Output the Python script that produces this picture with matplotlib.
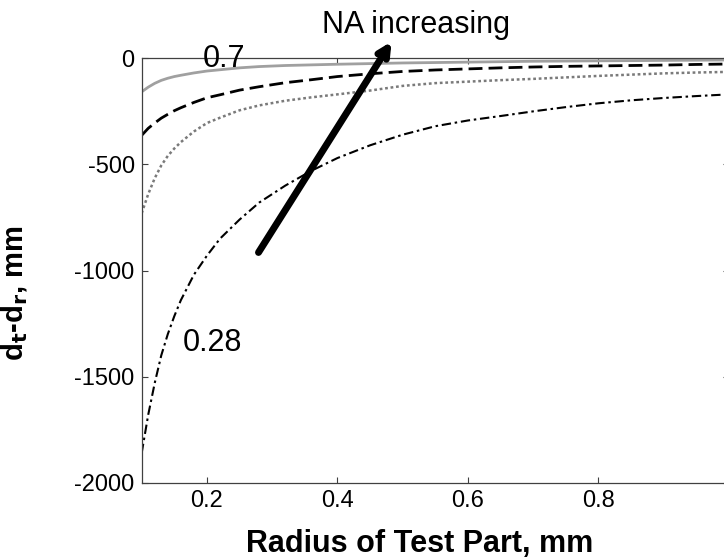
import numpy as np
import matplotlib
matplotlib.use("Agg")
import matplotlib.pyplot as plt

plt.rcParams["font.family"] = ["Liberation Sans", "DejaVu Sans"]
plt.rcParams["axes.unicode_minus"] = False

# radius of test part (mm) and d_t - d_r (mm), one list per NA
radius = [0.10, 0.11, 0.12, 0.13, 0.14, 0.15, 0.16, 0.18, 0.20, 0.22, 0.25, 0.28, 0.32, 0.36,
          0.40, 0.45, 0.50, 0.55, 0.60, 0.65, 0.70, 0.75, 0.80, 0.85, 0.90, 0.95, 1.00]
na_070 = [-158, -136, -118, -104, -94, -86, -80, -69, -60, -54, -45, -39, -34, -31,
          -28, -25, -22, -20, -18, -16, -14, -13, -12, -11, -10, -9, -8]
na_mid_hi = [-363, -330, -305, -282, -264, -247, -233, -208, -186, -172, -150, -134, -115, -101,
             -86, -73, -62, -55, -50, -45, -41, -38, -36, -34, -32, -29, -27]
na_mid_lo = [-730, -640, -565, -505, -460, -425, -395, -345, -305, -280, -245, -222, -200, -184,
             -170, -152, -130, -117, -110, -103, -97, -90, -83, -77, -71, -67, -64]
na_028 = [-1860, -1680, -1530, -1400, -1300, -1215, -1140, -1020, -930, -850, -760, -680, -600, -530,
          -470, -410, -360, -320, -293, -272, -250, -230, -212, -198, -187, -178, -170]

fig = plt.figure(figsize=(7.24, 5.6), dpi=100)
ax = fig.add_axes([0.1957, 0.138, 0.8112, 0.7579])

ax.plot(radius, na_070, color="#a0a0a0", lw=2.0, solid_capstyle="butt")
ax.plot(radius, na_mid_hi, color="black", lw=2.0, dashes=(5, 2.2))
ax.plot(radius, na_mid_lo, color="#7a7a7a", lw=1.8, dashes=(1.1, 1.1))
ax.plot(radius, na_028, color="black", lw=1.5, dashes=(4.5, 1.8, 1.2, 1.8))

ax.set_xlim(0.1, 1.0)
ax.set_ylim(-2000, 0)
ax.set_xticks([0.2, 0.4, 0.6, 0.8])
ax.set_xticklabels(["0.2", "0.4", "0.6", "0.8"])
ax.set_yticks([-2000, -1500, -1000, -500, 0])
ax.tick_params(direction="in", length=4.5, width=0.8, color="#404040", labelsize=17,
               top=True, right=True, pad=5)
for s in ax.spines.values():
    s.set_color("#404040"); s.set_linewidth(0.9)

ax.set_xlabel("Radius of Test Part, mm", fontsize=22, fontweight="bold")
ax.xaxis.set_label_coords(0.474, -0.11)
ax.set_ylabel("d$_\\mathbf{t}$-d$_\\mathbf{r}$, mm", fontsize=21, fontweight="bold")
ax.yaxis.set_label_coords(-0.19, 0.447)

ax.text(0.226, -41, "0.7", fontsize=22, ha="center", va="baseline")
ax.text(0.2085, -1380, "0.28", fontsize=22, ha="center", va="baseline")
ax.text(0.52, 120, "NA increasing", fontsize=22, ha="center", va="baseline", clip_on=False)
ax.annotate("", xy=(0.483, 79), xytext=(0.279, -915), annotation_clip=False,
            arrowprops=dict(arrowstyle="->", lw=5, color="black", mutation_scale=18,
                            shrinkA=0, shrinkB=0))

fig.savefig("out.png", dpi=100)
